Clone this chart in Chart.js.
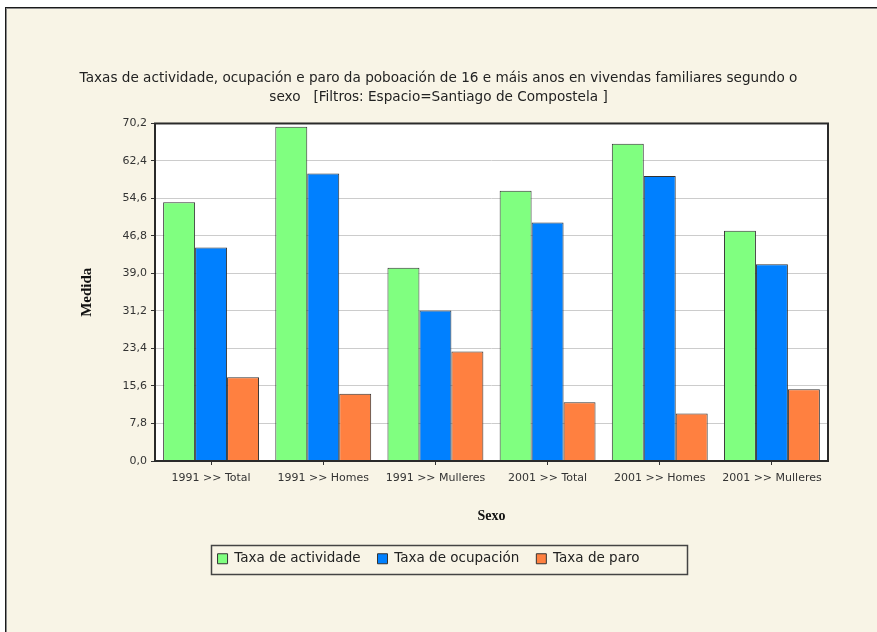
<!DOCTYPE html>
<html>
<head>
<meta charset="utf-8">
<script src="https://cdn.jsdelivr.net/npm/chart.js@4/dist/chart.umd.min.js"></script>
<style>
    html, body { margin: 0; padding: 0; background: #ffffff; overflow: hidden; width: 877px; height: 632px; }
    #panel {
        position: absolute; left: 5px; top: 7px; width: 900px; height: 660px;
        background: #f8f4e6;
        border-left: 1px solid #1a1a1a; border-top: 1px solid #1a1a1a;
        box-shadow: inset 1px 1px 0 #8a8a8a;
    }
    #taxasChart { position: absolute; left: 0; top: 0; }
</style>
</head>
<body>
<div id="panel"></div>
<canvas id="taxasChart" width="877" height="632"></canvas>
<script>
const categories = ['1991 >> Total', '1991 >> Homes', '1991 >> Mulleres', '2001 >> Total', '2001 >> Homes', '2001 >> Mulleres'];
const actividade = [53.8, 69.5, 40.2, 56.2, 66.0, 47.9];
const ocupacion = [44.4, 59.8, 31.3, 49.6, 59.3, 40.9];
const paro = [17.4, 14.0, 22.8, 12.2, 9.9, 14.9];
const yTicks = [0, 7.8, 15.6, 23.4, 31.2, 39.0, 46.8, 54.6, 62.4, 70.2];

const titleLines = [
    'Taxas de actividade, ocupación e paro da poboación de 16 e máis anos en vivendas familiares segundo o',
    'sexo   [Filtros: Espacio=Santiago de Compostela ]'
];

// white plot background, dark frame round the plot and a box round the legend
const framePlugin = {
    id: 'frame',
    afterLayout(chart) {
        // nudge the legend a little to the left
        chart.legend.left -= 10;
        chart.legend.right -= 10;
    },
    beforeDraw(chart) {
        const { ctx, chartArea: a } = chart;
        ctx.save();
        ctx.fillStyle = '#ffffff';
        ctx.fillRect(a.left, a.top, a.right - a.left, a.bottom - a.top);
        ctx.restore();
    },
    afterDraw(chart) {
        const { ctx, chartArea: a } = chart;
        ctx.save();
        ctx.strokeStyle = '#2a2a2a';
        ctx.lineWidth = 2;
        ctx.strokeRect(a.left, a.top, a.right - a.left, a.bottom - a.top);

        const hb = chart.legend.legendHitBoxes;
        if (hb && hb.length) {
            const last = hb[hb.length - 1];
            const cy = hb[0].top + hb[0].height / 2;
            const x0 = hb[0].left - 7;
            const x1 = last.left + last.width + 47;
            ctx.strokeStyle = '#444444';
            ctx.lineWidth = 1.5;
            ctx.strokeRect(Math.round(x0) + 0.5, Math.round(cy - 14) + 0.5, Math.round(x1 - x0), 29);
        }
        ctx.restore();
    }
};

const ctx = document.getElementById('taxasChart').getContext('2d');

const data = {
    labels: categories,
    datasets: [
        {
            label: 'Taxa de actividade',
            data: actividade,
            backgroundColor: '#80ff80',
            borderColor: '#333333',
            borderWidth: 1
        },
        {
            label: 'Taxa de ocupación',
            data: ocupacion,
            backgroundColor: '#0080ff',
            borderColor: '#333333',
            borderWidth: 1
        },
        {
            label: 'Taxa de paro',
            data: paro,
            backgroundColor: '#ff8040',
            borderColor: '#333333',
            borderWidth: 1
        }
    ]
};

const config = {
    type: 'bar',
    data: data,
    options: {
        responsive: false,
        animation: false,
        devicePixelRatio: 1,
        layout: { padding: { left: 0, right: 0, top: 0, bottom: 56.5 } },
        datasets: {
            bar: { categoryPercentage: 0.855, barPercentage: 1.0 }
        },
        plugins: {
            title: {
                display: true,
                text: titleLines,
                color: '#222222',
                font: { family: 'DejaVu Sans', size: 13.6, weight: 'normal', lineHeight: 1.4 },
                padding: { top: 68.5, bottom: 16.9 }
            },
            legend: {
                position: 'bottom',
                labels: {
                    boxWidth: 10,
                    boxHeight: 10,
                    padding: 17,
                    color: '#222222',
                    font: { family: 'DejaVu Sans', size: 13.5 }
                }
            },
            tooltip: { enabled: false }
        },
        scales: {
            x: {
                grid: {
                    display: true,
                    drawOnChartArea: false,
                    offset: false,
                    tickLength: 4,
                    tickColor: '#333333'
                },
                border: { display: false },
                ticks: {
                    color: '#333333',
                    padding: 7,
                    maxRotation: 0,
                    autoSkip: false,
                    font: { family: 'DejaVu Sans', size: 11 }
                },
                title: {
                    display: true,
                    text: 'Sexo',
                    color: '#111111',
                    font: { family: 'Liberation Serif', size: 14, weight: 'bold' },
                    padding: { top: 15.4, bottom: 10.6 }
                }
            },
            y: {
                min: 0,
                max: 70.2,
                afterBuildTicks: (scale) => {
                    scale.ticks = yTicks.map(v => ({ value: v }));
                },
                afterFit: (scale) => { scale.width = 155; },
                grid: {
                    color: '#cccccc',
                    lineWidth: 1,
                    tickLength: 4,
                    tickColor: '#333333'
                },
                border: { display: false },
                ticks: {
                    color: '#333333',
                    padding: 4,
                    font: { family: 'DejaVu Sans', size: 11 },
                    callback: (value) => value.toFixed(1).replace('.', ',')
                },
                title: {
                    display: true,
                    text: 'Medida',
                    color: '#111111',
                    font: { family: 'Liberation Serif', size: 15, weight: 'bold' },
                    padding: { top: 78, bottom: 0 }
                }
            },
            // empty right-hand axis keeps the plot clear of the right edge
            yRight: {
                type: 'linear',
                position: 'right',
                display: true,
                grid: { display: false, drawTicks: false },
                border: { display: false },
                ticks: { display: false },
                afterFit: (scale) => { scale.width = 49; }
            }
        }
    },
    plugins: [framePlugin]
};

new Chart(ctx, config);
</script>
</body>
</html>
